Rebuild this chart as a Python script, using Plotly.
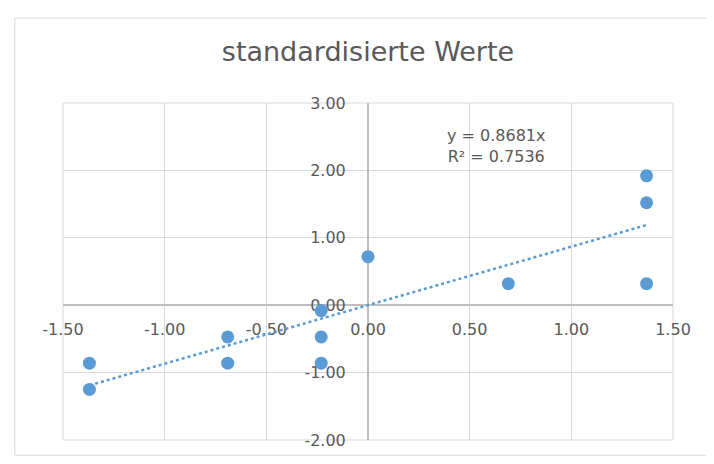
import numpy as np
import plotly.graph_objects as go

# Data (standardised values)
x_vals = [-1.37, -1.37, -0.69, -0.69, -0.23, -0.23, -0.23, 0.00, 0.69, 1.37, 1.37, 1.37]
y_vals = [-0.86, -1.25, -0.47, -0.86, -0.08, -0.47, -0.86, 0.72, 0.32, 1.92, 1.52, 0.32]
slope = 0.8681
eq_text = "y = 0.8681x"
r2_text = "R² = 0.7536"
title_text = "standardisierte Werte"
x_ticks = [-1.5, -1.0, -0.5, 0.0, 0.5, 1.0, 1.5]
y_ticks = [-2, -1, 0, 1, 2, 3]

FONT = "'DejaVu Sans', sans-serif"
GREY = "#595959"
BLUE = "#5B9BD5"

trend_x = np.array([min(x_vals), max(x_vals)])
trend_y = slope * trend_x

fig = go.Figure()
fig.add_trace(go.Scatter(x=list(trend_x), y=list(trend_y), mode="lines",
                         line=dict(color=BLUE, width=2.5, dash="dot"),
                         hoverinfo="skip", showlegend=False))
fig.add_trace(go.Scatter(x=x_vals, y=y_vals, mode="markers",
                         marker=dict(color=BLUE, size=13, line=dict(width=0)),
                         showlegend=False))

fig.update_layout(
    width=714, height=464,
    margin=dict(l=55, r=49, t=95, b=32),
    paper_bgcolor="white", plot_bgcolor="white",
    font=dict(family=FONT, color=GREY, size=16),
    title=dict(text=title_text, x=0.5, xref="paper", xanchor="center",
               y=1 - 44 / 464, yanchor="middle", yref="container",
               font=dict(size=27, color=GREY, family=FONT)),
    xaxis=dict(range=[-1.5, 1.5], tickvals=x_ticks,
               ticktext=[f"{v:.2f}" for v in x_ticks],
               showgrid=True, gridcolor="#D9D9D9", gridwidth=1,
               zeroline=False, showline=True, linecolor="#BFBFBF", linewidth=2,
               anchor="free", position=0.4, ticks="", layer="below traces",
               automargin=False, ticklabelstandoff=10,
               tickfont=dict(size=16, color=GREY)),
    yaxis=dict(range=[-2, 3], tickvals=y_ticks,
               ticktext=[f"{v:.2f}" for v in y_ticks],
               showgrid=True, gridcolor="#D9D9D9", gridwidth=1,
               zeroline=False, showline=True, linecolor="#BFBFBF", linewidth=2,
               anchor="free", position=0.5, ticks="", layer="below traces",
               automargin=False, ticklabelstandoff=18,
               tickfont=dict(size=16, color=GREY)),
)

# Plot-area outline (edge gridlines)
fig.add_shape(type="rect", xref="paper", yref="paper", x0=0, x1=1, y0=0, y1=1,
              line=dict(color="#D9D9D9", width=1), fillcolor="rgba(0,0,0,0)", layer="below")

# Trendline equation label
fig.add_annotation(x=0.63, y=2.36, xref="x", yref="y", text=eq_text + "<br>" + r2_text,
                   showarrow=False, align="center", font=dict(size=16, color=GREY, family=FONT))

# Chart-area border
fig.add_shape(type="rect", xref="paper", yref="paper", x0=-0.079, x1=1.062, y0=-0.045, y1=1.252,
              line=dict(color="#D9D9D9", width=1), fillcolor="rgba(0,0,0,0)", layer="below")

fig.write_html("out.html")
